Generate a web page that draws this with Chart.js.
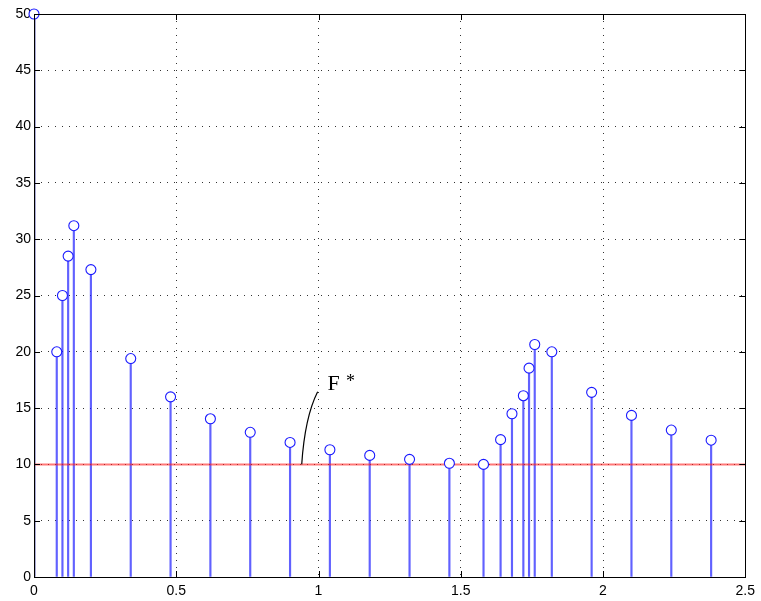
<!DOCTYPE html>
<html>
<head>
<meta charset="utf-8">
<script src="https://cdn.jsdelivr.net/npm/chart.js@4.4.1/dist/chart.umd.min.js"></script>
<style>
  html, body { margin: 0; padding: 0; background: #fff; }
  #wrap { width: 761px; height: 601px; }
</style>
</head>
<body>
<div id="wrap"><canvas id="c" width="761" height="601"></canvas></div>
<script>
// ---- data ----
const freqs = [0, 0.08, 0.10, 0.12, 0.14, 0.20, 0.34, 0.48, 0.62, 0.76, 0.90, 1.04, 1.18, 1.32, 1.46,
               1.58, 1.64, 1.68, 1.72, 1.74, 1.76, 1.82, 1.96, 2.10, 2.24, 2.38];
const values = [50, 20.0, 25.0, 28.5, 31.2, 27.3, 19.4, 16.0, 14.05, 12.85, 11.95, 11.3, 10.8, 10.45, 10.1,
                10.0, 12.2, 14.5, 16.1, 18.55, 20.65, 20.0, 16.4, 14.35, 13.05, 12.15];
const refLevel = 10;
const xTicks = [0, 0.5, 1, 1.5, 2, 2.5];
const yTicks = [0, 5, 10, 15, 20, 25, 30, 35, 40, 45, 50];
const annoText = ['F', '*'];

const stemPts = freqs.map((x, i) => ({ x: x, y: values[i] }));
const firstStem = stemPts.slice(0, 1);
const otherStems = stemPts.slice(1);
const refLine = [{ x: xTicks[0], y: refLevel }, { x: xTicks[xTicks.length - 1], y: refLevel }];

const FONT = '"Liberation Sans", Arial, Helvetica, sans-serif';

const boxAndTicks = {
  id: 'boxAndTicks',
  afterDatasetsDraw(chart) {
    const { ctx, chartArea: a, scales } = chart;
    ctx.save();
    ctx.strokeStyle = '#000';
    ctx.lineWidth = 1;
    const tl = 6;
    ctx.beginPath();
    yTicks.forEach(v => {
      const y = Math.round(scales.y.getPixelForValue(v)) + 0.5;
      ctx.moveTo(a.left, y); ctx.lineTo(a.left + tl, y);
      ctx.moveTo(a.right, y); ctx.lineTo(a.right - tl, y);
    });
    xTicks.forEach(v => {
      const x = Math.round(scales.x.getPixelForValue(v)) + 0.5;
      ctx.moveTo(x, a.bottom); ctx.lineTo(x, a.bottom - tl);
      ctx.moveTo(x, a.top); ctx.lineTo(x, a.top + tl);
    });
    ctx.stroke();
    ctx.strokeRect(Math.round(a.left) + 0.5, Math.round(a.top) + 0.5,
                   Math.round(a.right - a.left), Math.round(a.bottom - a.top));
    // annotation curve and label (placed in data coordinates)
    const sx = v => scales.x.getPixelForValue(v);
    const sy = v => scales.y.getPixelForValue(v);
    ctx.beginPath();
    ctx.lineWidth = 1.2;
    ctx.moveTo(sx(0.941), sy(refLevel));
    ctx.quadraticCurveTo(sx(0.952), sy(14.2), sx(0.997), sy(16.45));
    ctx.stroke();
    ctx.fillStyle = '#000';
    ctx.textBaseline = 'alphabetic';
    ctx.textAlign = 'left';
    ctx.font = '22px "Liberation Serif", "Times New Roman", serif';
    ctx.fillText(annoText[0], sx(1.032), sy(16.6));
    ctx.font = '18px "Liberation Serif", "Times New Roman", serif';
    ctx.fillText(annoText[1], sx(1.097), sy(16.9));
    ctx.restore();
  }
};

new Chart(document.getElementById('c'), {
  type: 'bar',
  data: {
    datasets: [
      {
        type: 'scatter',
        data: stemPts,
        showLine: false,
        pointStyle: 'circle',
        pointRadius: 5,
        pointHoverRadius: 5,
        borderColor: '#1a1aff',
        backgroundColor: '#ffffff',
        borderWidth: 1.1,
        clip: false,
        order: 1
      },
      {
        type: 'line',
        data: refLine,
        borderColor: 'rgba(255,30,30,0.6)',
        borderWidth: 2,
        pointRadius: 0,
        fill: false,
        order: 2
      },
      {
        type: 'bar',
        data: otherStems,
        backgroundColor: 'rgba(30,30,255,0.7)',
        borderWidth: 0,
        barThickness: 1.5,
        grouped: false,
        order: 3
      },
      {
        type: 'bar',
        data: firstStem,
        backgroundColor: '#000080',
        borderWidth: 0,
        barThickness: 2,
        grouped: false,
        order: 3
      }
    ]
  },
  options: {
    responsive: false,
    animation: false,
    events: [],
    layout: { padding: { top: 14, right: 13, left: 0, bottom: 0 } },
    plugins: { legend: { display: false }, tooltip: { enabled: false } },
    scales: {
      x: {
        type: 'linear',
        min: 0, max: 2.5,
        offset: false,
        afterBuildTicks: s => { s.ticks = xTicks.map(v => ({ value: v })); },
        afterFit: s => { s.height = 24; },
        grid: {
          offset: false,
          drawTicks: false,
          color: ctx => (ctx.tick && (ctx.tick.value === 0 || ctx.tick.value === 2.5)) ? 'rgba(0,0,0,0)' : 'rgba(0,0,0,0.8)',
          lineWidth: 1
        },
        border: { display: false, dash: [1, 6] },
        ticks: {
          color: '#000',
          font: { family: FONT, size: 14 },
          padding: 6,
          maxRotation: 0,
          autoSkip: false,
          callback: v => String(v)
        }
      },
      y: {
        type: 'linear',
        min: 0, max: 50,
        afterBuildTicks: s => { s.ticks = yTicks.map(v => ({ value: v })); },
        afterFit: s => { s.width = 34; },
        grid: {
          drawTicks: false,
          color: ctx => (ctx.tick && (ctx.tick.value === 0 || ctx.tick.value === 50)) ? 'rgba(0,0,0,0)' : 'rgba(0,0,0,0.8)',
          lineWidth: 1
        },
        border: { display: false, dash: [1, 6] },
        ticks: {
          color: '#000',
          font: { family: FONT, size: 14 },
          padding: 3,
          autoSkip: false,
          callback: v => String(v)
        }
      }
    }
  },
  plugins: [boxAndTicks]
});
</script>
</body>
</html>
